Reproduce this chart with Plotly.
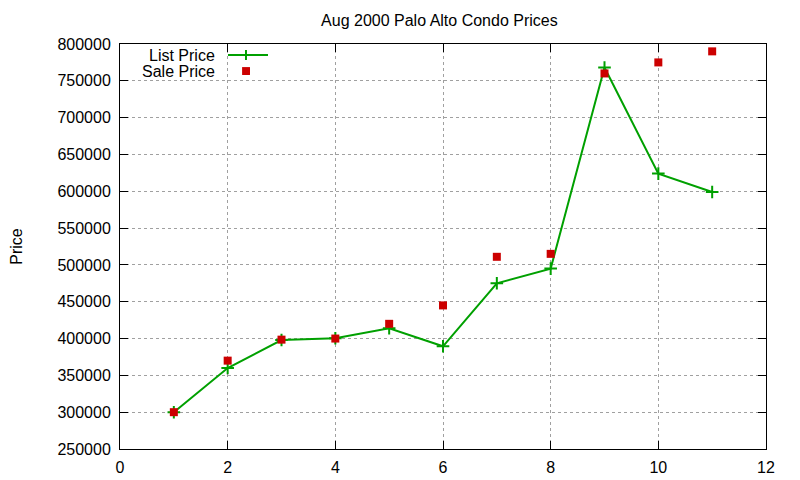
import plotly.graph_objects as go

x_vals = [1, 2, 3, 4, 5, 6, 7, 8, 9, 10, 11]
list_price = [300000, 360000, 398000, 400500, 414000, 389500, 475000, 495000, 768000, 624000, 599000]
sale_price = [300000, 370000, 398500, 400000, 420000, 445000, 511000, 515000, 760000, 775000, 790000]

GREEN = "#00a000"
RED = "#cc0000"
FONT = "Liberation Sans"

fig = go.Figure()
fig.add_trace(go.Scatter(
    x=x_vals, y=list_price, mode="lines+markers", name="List Price",
    line=dict(color=GREEN, width=2),
    marker=dict(symbol="cross-thin", size=9, line=dict(color=GREEN, width=2), color=GREEN),
))
fig.add_trace(go.Scatter(
    x=x_vals, y=sale_price, mode="markers", name="Sale Price",
    marker=dict(symbol="square", size=8, color=RED),
))

axis_common = dict(
    showline=True, linecolor="black", linewidth=1, mirror="allticks",
    ticks="inside", ticklen=8, tickcolor="black", automargin=False,
    showgrid=True, gridcolor="#a0a0a0", griddash="dot", gridwidth=1,
    zeroline=False, tickfont=dict(family=FONT, size=16, color="black"),
)

fig.update_xaxes(range=[0, 12], dtick=2, ticklabelstandoff=4, **axis_common)
fig.update_yaxes(range=[250000, 800000], dtick=50000, tickformat="d", ticklabelstandoff=5,
                 title=dict(text="Price", font=dict(family=FONT, size=16, color="black"), standoff=31),
                 **axis_common)

# legend drawn gnuplot-style (text left of key)
fig.add_annotation(xref="paper", yref="paper", x=0.1505, y=0.9728, xanchor="right", yanchor="middle",
                   text="List Price", showarrow=False, font=dict(family=FONT, size=16, color="black"))
fig.add_annotation(xref="paper", yref="paper", x=0.1505, y=0.9333, xanchor="right", yanchor="middle",
                   text="Sale Price", showarrow=False, font=dict(family=FONT, size=16, color="black"))
fig.add_shape(type="line", xref="paper", yref="paper", x0=0.1672, x1=0.2291, y0=0.9728, y1=0.9728,
              line=dict(color=GREEN, width=2))
fig.add_shape(type="line", xref="paper", yref="paper", x0=0.195, x1=0.195, y0=0.9605, y1=0.9852,
              line=dict(color=GREEN, width=2))
fig.add_shape(type="rect", xref="paper", yref="paper", x0=0.189, x1=0.2012, y0=0.9235, y1=0.943,
              line=dict(width=0), fillcolor=RED)

fig.update_layout(
    width=792, height=472,
    margin=dict(l=112, r=34, t=36, b=31),
    plot_bgcolor="white", paper_bgcolor="white",
    showlegend=False,
    title=dict(text="Aug 2000 Palo Alto Condo Prices", x=0.5447, xanchor="center", y=0.9746, yanchor="middle",
               font=dict(family=FONT, size=16, color="black")),
)

fig.write_html("out.html")
